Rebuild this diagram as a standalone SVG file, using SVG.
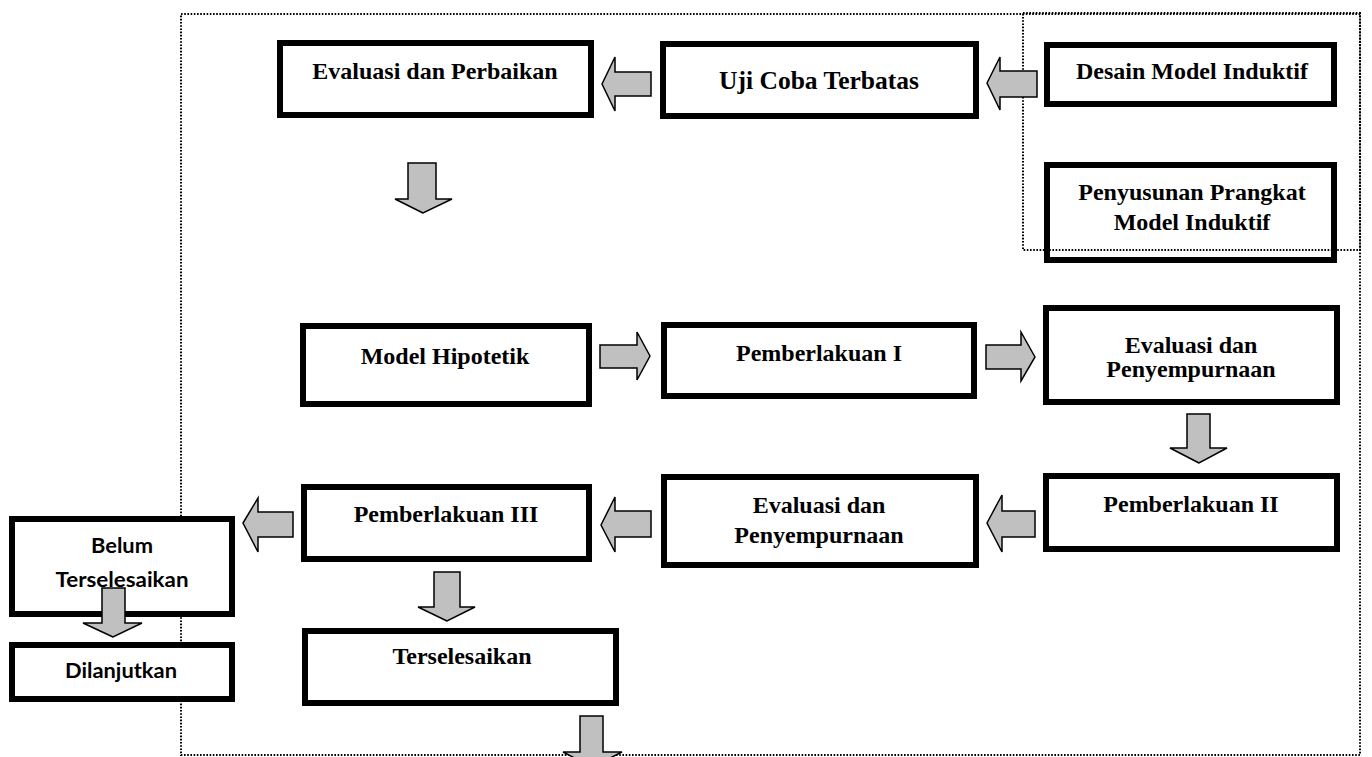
<svg xmlns="http://www.w3.org/2000/svg" width="1372" height="757" viewBox="0 0 1372 757">
<style>
.box{fill:#fff;stroke:#000;stroke-width:6}
.dot{fill:none;stroke:#000;stroke-width:2;stroke-dasharray:1.6 1.6}
.arr{fill:#c0c0c0;stroke:#000;stroke-width:1.5;stroke-linejoin:miter}
.t{font-family:"Liberation Serif","Times New Roman",serif;font-weight:bold;font-size:24px;text-anchor:middle;fill:#000}
.s{font-family:Lato,"Open Sans",sans-serif;font-weight:bold;font-size:20px;text-anchor:middle;fill:#000}
</style>
<rect class="dot" x="181" y="14" width="1179" height="741"/>
<g id="n-eval-perbaikan"><rect class="box" x="280" y="43" width="311" height="72"/><text class="t" x="435" y="79">Evaluasi dan Perbaikan</text></g>
<g id="n-uji"><rect class="box" x="663" y="44" width="313" height="72"/><text class="t" x="819" y="89" style="font-size:25.5px">Uji Coba Terbatas</text></g>
<g id="n-desain"><rect class="box" x="1047" y="45" width="287" height="59"/><text class="t" x="1192" y="79">Desain Model Induktif</text></g>
<g id="n-penyusunan"><rect class="box" x="1047" y="165" width="287" height="95"/><text class="t" x="1192" y="200">Penyusunan Prangkat</text><text class="t" x="1192" y="230">Model Induktif</text></g>
<g id="n-hipotetik"><rect class="box" x="303" y="326" width="286" height="78"/><text class="t" x="445" y="364">Model Hipotetik</text></g>
<g id="n-pem1"><rect class="box" x="664" y="325" width="310" height="71"/><text class="t" x="819" y="361">Pemberlakuan I</text></g>
<g id="n-eval-r"><rect class="box" x="1046" y="308" width="291" height="94"/><text class="t" x="1191" y="353">Evaluasi dan</text><text class="t" x="1191" y="377">Penyempurnaan</text></g>
<g id="n-pem2"><rect class="box" x="1046" y="476" width="291" height="73"/><text class="t" x="1191" y="512">Pemberlakuan II</text></g>
<g id="n-eval-m"><rect class="box" x="664" y="477" width="312" height="88"/><text class="t" x="819" y="513">Evaluasi dan</text><text class="t" x="819" y="543">Penyempurnaan</text></g>
<g id="n-pem3"><rect class="box" x="304" y="487" width="285" height="72"/><text class="t" x="446" y="522">Pemberlakuan III</text></g>
<g id="n-tersel"><rect class="box" x="305" y="631" width="311" height="72"/><text class="t" x="462" y="664">Terselesaikan</text></g>
<g id="n-belum"><rect class="box" x="12" y="519" width="220" height="95"/><text class="s" x="122" y="553" textLength="62" lengthAdjust="spacingAndGlyphs">Belum</text><text class="s" x="122" y="587" textLength="133" lengthAdjust="spacingAndGlyphs">Terselesaikan</text></g>
<g id="n-lanjut"><rect class="box" x="12" y="645" width="220" height="54"/><text class="s" x="121" y="678" textLength="112" lengthAdjust="spacingAndGlyphs">Dilanjutkan</text></g>
<rect class="dot" x="1023" y="13" width="337" height="237"/>
<g id="connectors">
<polygon class="arr" points="602,84 615,57 615,72 651,72 651,96 615,96 615,111"/>
<polygon class="arr" points="987,83 1000,57 1000,71 1037,71 1037,97 1000,97 1000,110"/>
<polygon class="arr" points="423,213 395,199 408,199 408,163 436,163 436,199 452,199"/>
<polygon class="arr" points="650,356 637,332 637,345 600,345 600,368 637,368 637,380"/>
<polygon class="arr" points="1035,357 1021,332 1021,345 986,345 986,369 1021,369 1021,381"/>
<polygon class="arr" points="1199,463 1170,448 1187,448 1187,414 1210,414 1210,448 1227,448"/>
<polygon class="arr" points="987,523 1002,495 1002,511 1035,511 1035,537 1002,537 1002,552"/>
<polygon class="arr" points="601,525 615,497 615,511 651,511 651,537 615,537 615,552"/>
<polygon class="arr" points="243,523 258,498 258,512 293,512 293,537 258,537 258,552"/>
<polygon class="arr" points="447,621 418,607 434,607 434,572 460,572 460,607 475,607"/>
<polygon class="arr" points="113,637 83,623 102,623 102,588 125,588 125,623 142,623"/>
<polygon class="arr" points="592,767 563,752 580,752 580,716 603,716 603,752 622,752"/>
</g>
</svg>
